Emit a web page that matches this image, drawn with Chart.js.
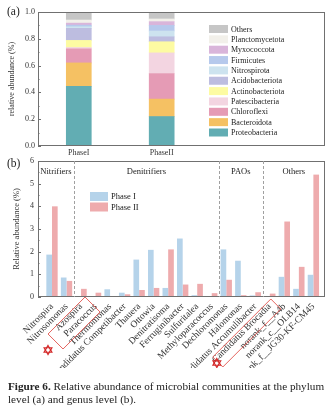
<!DOCTYPE html>
<html>
<head>
<meta charset="utf-8">
<script src="https://cdn.jsdelivr.net/npm/chart.js"></script>
<style>
  body { margin: 0; background: #fff; width: 333px; height: 414px; position: relative; overflow: hidden; font-family: "Liberation Serif", serif; }
  canvas { position: absolute; left: 0; }
  #chartA { top: 0; }
  #chartB { top: 150px; }
  .tag { position: absolute; left: 7px; color: #222; font-size: 11.5px; }
  #cap { position: absolute; left: 8px; top: 380px; font-size: 11.2px; line-height: 12.5px; color: #222; white-space: nowrap; }
</style>
</head>
<body>
<canvas id="chartA" width="333" height="160"></canvas>
<canvas id="chartB" width="333" height="218"></canvas>
<div class="tag" style="top:5px">(a)</div>
<div class="tag" style="top:157px">(b)</div>
<div id="cap"><b>Figure 6.</b> Relative abundance of microbial communities at the phylum<br>level (a) and genus level (b).</div>
<script>
Chart.defaults.font.family = "Liberation Serif";
Chart.defaults.color = "#333";
Chart.defaults.animation = false;

// (a) phylum level, bottom to top
const phases = ["PhaseI", "PhaseII"];
const phyla = ["Proteobacteria", "Bacteroidota", "Chloroflexi", "Patescibacteria", "Actinobacteriota",
  "Acidobacteriota", "Nitrospirota", "Firmicutes", "Myxococcota", "Planctomycetota", "Others"];
const phylaPhaseI = [0.445, 0.175, 0.105, 0.010, 0.053, 0.090, 0.012, 0.012, 0.015, 0.023, 0.060];
const phylaPhaseII = [0.220, 0.130, 0.190, 0.155, 0.083, 0.037, 0.043, 0.042, 0.028, 0.020, 0.052];
const phylaColors = ["#62adb3", "#f5c163", "#e59bb5", "#f3d5e1", "#fdfba2", "#bdbde0",
  "#cde3ef", "#b6c9ec", "#d9b5da", "#f2f0ea", "#c6c6c6"];

// (b) genus level
const genera = ["Nitrospira", "Nitrosomonas", "Azospira", "Paracoccus", "Thermomonas",
  "Candidatus Competibacter", "Thauera", "Ottowia", "Denitratisoma", "Ferruginibacter",
  "Sulfuritalea", "Methyloparacoccus", "Dechloromonas", "Halomonas", "Candidatus Accumulibacter",
  "Candidatus Brocadia", "norank_f__A4b", "norank_c__OLB14", "norank_f__JG30-KF-CM45"];
const generaPhaseI = [1.87, 0.86, 0, 0, 0.34, 0.19, 1.65, 2.08, 0.40, 2.58, 0.08, 0.04, 2.10, 1.60, 0.07, 0, 0.89, 0.36, 0.98];
const generaPhaseII = [4.00, 0.71, 0.36, 0.19, 0.02, 0.12, 0.31, 0.40, 2.10, 0.55, 0.58, 0.17, 0.76, 0.08, 0.21, 0.15, 3.33, 1.33, 5.40];
const groupNames = ["Nitrifiers", "Denitrifiers", "PAOs", "Others"];
const groupLast = [2, 12, 15, 19]; // last genus (1-based) of each group

const serif = (s) => s + "px 'Liberation Serif'";

// frame round the plot, with small inward ticks on the y axis
const frame = {
  id: "frame",
  afterDraw(chart) {
    const { ctx, chartArea: a, scales: { y } } = chart;
    ctx.save();
    ctx.strokeStyle = "#707070";
    ctx.lineWidth = 1;
    ctx.strokeRect(a.left + 0.5, a.top + 0.5, a.right - a.left - 1, a.bottom - a.top - 1);
    const vals = y.ticks.map((t) => t.value);
    vals.forEach((v, i) => {
      const py = Math.round(y.getPixelForValue(v)) + 0.5;
      ctx.beginPath(); ctx.moveTo(a.left, py); ctx.lineTo(a.left + 3, py); ctx.stroke();
      if (i < vals.length - 1) {
        const pm = Math.round(y.getPixelForValue((v + vals[i + 1]) / 2)) + 0.5;
        ctx.beginPath(); ctx.moveTo(a.left, pm); ctx.lineTo(a.left + 1.5, pm); ctx.stroke();
      }
    });
    ctx.restore();
  }
};

function boxLegend(cfg) {
  return {
    id: "boxLegend",
    afterDraw(chart) {
      const ctx = chart.ctx;
      let ds = chart.data.datasets.slice();
      if (cfg.reverse) ds.reverse();
      ctx.save();
      ctx.font = cfg.font;
      ctx.textBaseline = "middle";
      ds.forEach((d, i) => {
        const yy = cfg.y + i * cfg.rowH;
        ctx.fillStyle = d.backgroundColor;
        ctx.fillRect(cfg.x, yy - cfg.boxH / 2, cfg.boxW, cfg.boxH);
        ctx.fillStyle = "#222";
        ctx.fillText(d.label, cfg.x + cfg.boxW + 3, yy + 0.5);
      });
      ctx.restore();
    }
  };
}

new Chart(document.getElementById("chartA"), {
  type: "bar",
  data: {
    datasets: phyla.map((name, k) => ({
      label: name,
      data: [phylaPhaseI[k], phylaPhaseII[k]].map((v, i) => ({ x: i + 1, y: v })),
      backgroundColor: phylaColors[k],
      borderWidth: 0,
      barThickness: 25,
    })),
  },
  options: {
    responsive: false,
    devicePixelRatio: 1,
    layout: { padding: { top: 12, right: 8, left: 0, bottom: 0 } },
    plugins: { legend: { display: false }, tooltip: { enabled: false } },
    scales: {
      x: {
        type: "linear", stacked: true, offset: false, min: 0.508, max: 3.97,
        grid: { display: false, drawTicks: false }, border: { display: false },
        afterBuildTicks: (s) => { s.ticks = phases.map((_, i) => ({ value: i + 1 })); },
        afterFit: (s) => { s.height = 14; },
        ticks: { font: { size: 8 }, padding: 2, maxRotation: 0, callback: (v) => phases[v - 1] },
      },
      y: {
        stacked: true, min: 0, max: 1,
        grid: { display: false, drawTicks: false }, border: { display: false },
        afterFit: (s) => { s.width = 38; },
        ticks: { stepSize: 0.2, font: { size: 8 }, padding: 3, callback: (v) => v.toFixed(1) },
        title: { display: true, text: "relative abundance (%)", font: { size: 8 }, padding: { top: 7, bottom: 0 } },
      },
    },
  },
  plugins: [frame, boxLegend({ x: 209, y: 29, rowH: 10.35, boxW: 19, boxH: 8, font: serif(8), reverse: true })],
});

// group dividers and names for (b)
const groups = {
  id: "groups",
  afterDraw(chart) {
    const { ctx, chartArea: a, scales: { x } } = chart;
    ctx.save();
    ctx.font = serif(8.5);
    ctx.fillStyle = "#222";
    ctx.textAlign = "center";
    ctx.textBaseline = "middle";
    let left = a.left;
    groupNames.forEach((g, i) => {
      const right = i < groupNames.length - 1 ? x.getPixelForValue(groupLast[i] + 0.5) : a.right;
      ctx.fillText(g, (left + right) / 2, a.top + 11);
      if (i < groupNames.length - 1) {
        ctx.strokeStyle = "#a0a0a0";
        ctx.setLineDash([3, 2]);
        ctx.beginPath();
        ctx.moveTo(Math.round(right) + 0.5, a.top);
        ctx.lineTo(Math.round(right) + 0.5, a.bottom);
        ctx.stroke();
        ctx.setLineDash([]);
      }
      left = right;
    });
    ctx.restore();
  }
};

// red boxes and stars marking the highlighted genera
const marks = {
  id: "marks",
  afterDraw(chart) {
    const { ctx, chartArea: a, scales: { x } } = chart;
    const poly = (ox, pts) => {
      ctx.beginPath();
      pts.forEach(([dx, dy], i) => (i ? ctx.lineTo : ctx.moveTo).call(ctx, ox + dx, a.bottom + dy));
      ctx.closePath(); ctx.stroke();
    };
    const star = (cx, cy, r) => {
      [-Math.PI / 2, Math.PI / 2].forEach((s) => {
        ctx.beginPath();
        for (let k = 0; k < 3; k++) {
          const t = s + k * 2 * Math.PI / 3;
          (k ? ctx.lineTo : ctx.moveTo).call(ctx, cx + r * Math.cos(t), cy + r * Math.sin(t));
        }
        ctx.closePath(); ctx.stroke();
      });
    };
    ctx.save();
    ctx.strokeStyle = "#e0524c";
    ctx.lineWidth = 0.9;
    poly(x.getPixelForValue(3), [[4, 0], [-33, 37], [-18, 52], [19, 15]]);
    poly(x.getPixelForValue(16), [[1, 2], [-57, 60], [-47, 70], [11, 12]]);
    ctx.strokeStyle = "#d42a2a";
    ctx.lineWidth = 1.2;
    star(x.getPixelForValue(1) - 4, a.bottom + 53, 4.5);
    star(x.getPixelForValue(16) - 53, a.bottom + 66, 4.5);
    ctx.restore();
  }
};

new Chart(document.getElementById("chartB"), {
  type: "bar",
  data: {
    datasets: [
      { label: "Phase I", data: generaPhaseI.map((v, i) => ({ x: i + 1, y: v })), backgroundColor: "#b5d3ea" },
      { label: "Phase II", data: generaPhaseII.map((v, i) => ({ x: i + 1, y: v })), backgroundColor: "#eeabad" },
    ],
  },
  options: {
    responsive: false,
    devicePixelRatio: 1,
    layout: { padding: { top: 11, right: 8, left: 0, bottom: 0 } },
    datasets: { bar: { categoryPercentage: 0.78, barPercentage: 1 } },
    plugins: { legend: { display: false }, tooltip: { enabled: false } },
    scales: {
      x: {
        type: "linear", offset: false, min: 0.036, max: 19.8,
        grid: { display: false, drawTicks: false }, border: { display: false },
        afterBuildTicks: (s) => { s.ticks = genera.map((_, i) => ({ value: i + 1 })); },
        afterFit: (s) => { s.height = 71; },
        ticks: { font: { size: 9.5 }, padding: 4, autoSkip: false, minRotation: 45, maxRotation: 45,
          callback: (v) => genera[v - 1] },
      },
      y: {
        min: 0, max: 6,
        grid: { display: false, drawTicks: false }, border: { display: false },
        afterFit: (s) => { s.width = 38; },
        ticks: { stepSize: 1, font: { size: 8 }, padding: 4 },
        title: { display: true, text: "Relative abundance (%)", font: { size: 8.5 }, padding: { top: 12, bottom: 0 } },
      },
    },
  },
  plugins: [frame, groups, marks, boxLegend({ x: 90, y: 196.5 - 150, rowH: 10.5, boxW: 18, boxH: 9, font: serif(8.5) })],
});
</script>
</body>
</html>
